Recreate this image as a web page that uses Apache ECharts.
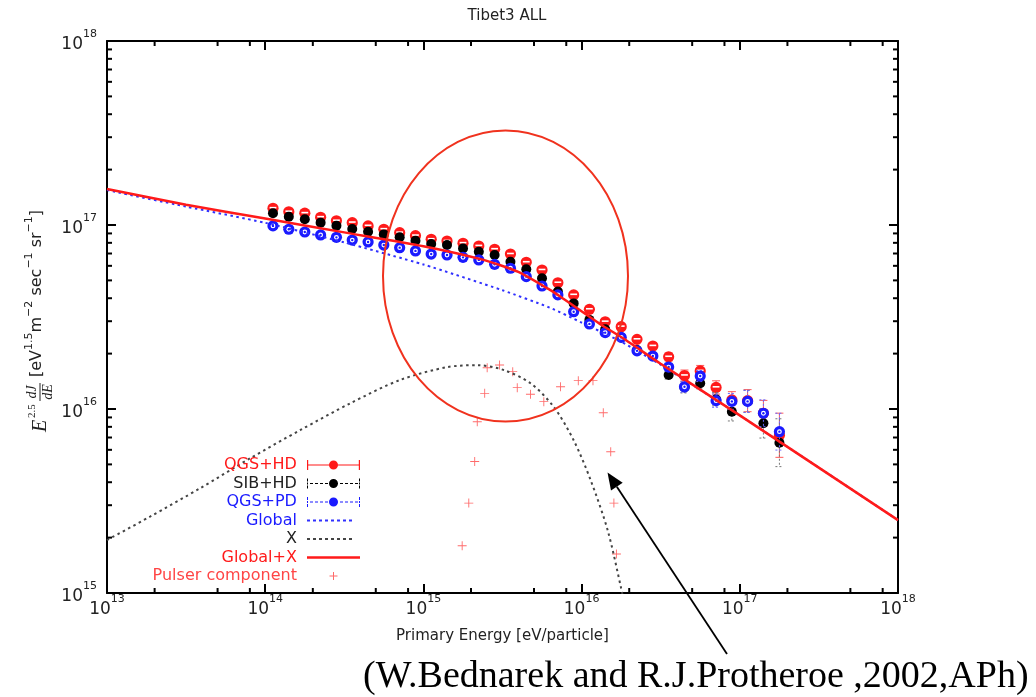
<!DOCTYPE html>
<html>
<head>
<meta charset="utf-8">
<script src="https://cdn.jsdelivr.net/npm/echarts/dist/echarts.min.js"></script>
<style>
  html, body { margin: 0; padding: 0; background: #fff; }
  #chart { width: 1036px; height: 697px; }
</style>
</head>
<body>
<div id="chart"></div>
<script>
// Primary energy of each bin (eV/particle), 0.1-decade steps
const energy = [
  1.12e14, 1.41e14, 1.78e14, 2.24e14, 2.82e14, 3.55e14, 4.47e14, 5.62e14, 7.08e14, 8.91e14,
  1.12e15, 1.41e15, 1.78e15, 2.24e15, 2.82e15, 3.55e15, 4.47e15, 5.62e15, 7.08e15, 8.91e15,
  1.12e16, 1.41e16, 1.78e16, 2.24e16, 2.82e16, 3.55e16, 4.47e16, 5.62e16, 7.08e16, 8.91e16,
  1.12e17, 1.41e17, 1.78e17
];

// E^2.5 dJ/dE for the three interaction-model analyses
const qgsHd = [
  1.233e17, 1.180e17, 1.159e17, 1.102e17, 1.054e17, 1.030e17, 9.89e16, 9.48e16, 9.08e16, 8.75e16,
  8.36e16, 8.18e16, 7.96e16, 7.69e16, 7.38e16, 6.95e16, 6.27e16, 5.69e16, 4.85e16, 4.17e16,
  3.48e16, 2.98e16, 2.80e16, 2.39e16, 2.20e16, 1.92e16, 1.52e16, 1.61e16, 1.31e16, 1.12e16,
  1.11e16, 9.48e15, 7.2e15
];
const sibHd = [
  1.159e17, 1.109e17, 1.074e17, 1.030e17, 9.91e16, 9.51e16, 9.20e16, 8.89e16, 8.57e16, 8.22e16,
  7.89e16, 7.78e16, 7.46e16, 7.16e16, 6.87e16, 6.32e16, 5.74e16, 5.13e16, 4.35e16, 3.75e16,
  3.05e16, 2.71e16, 2.45e16, 2.09e16, 1.94e16, 1.53e16, 1.31e16, 1.38e16, 1.13e16, 9.66e15,
  1.10e16, 8.36e15, 6.56e15
];
const qgsPd = [
  9.89e16, 9.48e16, 9.16e16, 8.83e16, 8.57e16, 8.28e16, 8.09e16, 7.78e16, 7.53e16, 7.23e16,
  6.95e16, 6.87e16, 6.67e16, 6.46e16, 6.11e16, 5.82e16, 5.24e16, 4.66e16, 4.17e16, 3.38e16,
  2.90e16, 2.60e16, 2.45e16, 2.07e16, 1.94e16, 1.69e16, 1.32e16, 1.51e16, 1.11e16, 1.10e16,
  1.10e16, 9.48e15, 7.53e15
];

// Statistical errors, in decades (log10 units)
const qgsHdErr = [
  0, 0, 0, 0, 0, 0, 0, 0, 0, 0, 0, 0, 0, 0, 0, 0, 0, 0, 0, 0, 0, 0,
  0.012, 0.015, 0.018, 0.022, 0.03, 0.03, 0.036, 0.045, 0.06, 0.07, 0.12
];
const sibHdErr = [
  0, 0, 0, 0, 0, 0, 0, 0, 0, 0, 0, 0, 0, 0, 0, 0, 0, 0, 0, 0, 0, 0,
  0.012, 0.015, 0.018, 0.022, 0.03, 0.03, 0.036, 0.05, 0.06, 0.08, 0.13
];
const qgsPdErr = [
  0, 0, 0, 0, 0, 0, 0, 0, 0, 0, 0, 0, 0, 0, 0, 0, 0, 0, 0, 0, 0, 0,
  0.012, 0.015, 0.018, 0.022, 0.03, 0.03, 0.036, 0.043, 0.06, 0.073, 0.10
];

// Model curves
const globalE    = [1e13, 3.16e13, 1e14, 3.16e14, 1e15, 3.16e15, 6.31e15, 1e16, 1.78e16, 3.16e16, 1e17, 1e18];
const globalFlux = [1.549e17, 1.259e17, 1.028e17, 8.04e16, 6.10e16, 4.42e16, 3.55e16, 2.95e16, 2.32e16, 1.74e16, 9.23e15, 2.49e15];

const xE    = [1e13, 1.87e13, 3.88e13, 8.04e13, 1.67e14, 3.45e14, 7.14e14, 1.42e15, 2.20e15,
               3.21e15, 4.75e15, 6.65e15, 8.89e15, 1.14e16, 1.46e16, 1.77e16, 1.87e16];
const xFlux = [1.94e15, 2.60e15, 3.71e15, 5.40e15, 7.69e15, 1.074e16, 1.439e16, 1.69e16, 1.73e16,
               1.63e16, 1.38e16, 1.03e16, 6.79e15, 4.11e15, 2.20e15, 1.08e15, 8.6e14];

const sumE    = [1e13, 3.16e13, 1e14, 3.16e14, 1e15, 2.40e15, 3.98e15, 6.31e15, 7.36e15, 1.32e16, 1.82e16, 3.16e16, 1e17, 1e18];
const sumFlux = [1.57e17, 1.288e17, 1.084e17, 9.12e16, 7.67e16, 6.46e16, 5.56e16, 4.44e16, 4.07e16, 2.88e16, 2.43e16, 1.76e16, 9.23e15, 2.49e15];

// Pulsar component points
const pulserE = [
  1.758e15, 1.936e15, 2.11e15, 2.19e15, 2.44e15, 2.53e15, 3.03e15, 3.67e15, 3.92e15,
  4.75e15, 5.77e15, 7.36e15, 9.53e15, 1.18e16, 1.371e16, 1.528e16, 1.60e16, 1.66e16
];
const pulserFlux = [
  1.807e15, 3.08e15, 5.18e15, 8.53e15, 1.216e16, 1.675e16, 1.734e16, 1.596e16, 1.306e16,
  1.202e16, 1.096e16, 1.321e16, 1.426e16, 1.426e16, 9.55e15, 5.86e15, 3.08e15, 1.629e15
];

// Axis ranges and minor tick positions
const X_MIN = 1e13, X_MAX = 1e18, Y_MIN = 1e15, Y_MAX = 1e18;
const xMinorMantissa = [2, 5, 8];
const yMinorMantissa = [2, 3, 4, 5, 6, 7, 8, 9];

const xMinorTicks = [];
for (let e = 13; e < 18; e++) xMinorMantissa.forEach(m => xMinorTicks.push(m * Math.pow(10, e)));
const yMinorTicks = [];
for (let e = 15; e < 18; e++) yMinorMantissa.forEach(m => yMinorTicks.push(m * Math.pow(10, e)));

const RED = '#ff1a1a', BLUE = '#1a1aff', BLACK = '#000000';
const FONT = '"DejaVu Sans", sans-serif';

const zip3 = (a, b, c) => a.map((v, i) => [v, b[i], c[i]]);
const zip2 = (a, b) => a.map((v, i) => [v, b[i]]);

const markerStyles = {
  qgsHd: { bar: '#ff5a5a', dash: null },
  sibHd: { bar: '#777777', dash: [2, 2] },
  qgsPd: { bar: '#6a6aff', dash: [2, 2] }
};

function pointRenderer(kind) {
  return function (params, api) {
    const e = api.value(0), f = api.value(1), err = api.value(2);
    const c = api.coord([e, f]);
    const st = markerStyles[kind];
    const kids = [];
    if (err > 0) {
      const k = Math.pow(10, err);
      const hi = api.coord([e, f * k])[1];
      const lo = api.coord([e, f / k])[1];
      const bs = { stroke: st.bar, lineWidth: 1, lineDash: st.dash };
      kids.push({ type: 'line', shape: { x1: c[0], y1: hi, x2: c[0], y2: lo }, style: bs });
      kids.push({ type: 'line', shape: { x1: c[0] - 4, y1: hi, x2: c[0] + 4, y2: hi }, style: bs });
      kids.push({ type: 'line', shape: { x1: c[0] - 4, y1: lo, x2: c[0] + 4, y2: lo }, style: bs });
    }
    if (kind === 'qgsHd') {
      kids.push({ type: 'circle', shape: { cx: c[0], cy: c[1], r: 5.6 }, style: { fill: RED } });
      kids.push({ type: 'rect', shape: { x: c[0] - 3.4, y: c[1] - 1.4, width: 6.8, height: 1.6 }, style: { fill: '#fff' } });
    } else if (kind === 'sibHd') {
      kids.push({ type: 'circle', shape: { cx: c[0], cy: c[1], r: 5 }, style: { fill: BLACK } });
    } else {
      kids.push({ type: 'circle', shape: { cx: c[0], cy: c[1], r: 5.6 }, style: { fill: BLUE } });
      kids.push({ type: 'circle', shape: { cx: c[0], cy: c[1], r: 2.4 }, style: { fill: '#fff' } });
      kids.push({ type: 'circle', shape: { cx: c[0], cy: c[1], r: 1.2 }, style: { fill: BLUE } });
    }
    return { type: 'group', children: kids };
  };
}

// Legend sample shapes (53 x 12 box; corner specks fix the box size)
const ICON_BOX = 'M0,0h0.01v0.01h-0.01z M52.99,11.99h0.01v0.01h-0.01z ';
function barIcon(dashed) {
  let p = 'path://' + ICON_BOX;
  if (dashed) {
    p += 'M0,1h1v3h-1z M0,5h1v2h-1z M0,8h1v3h-1z M52,1h1v3h-1z M52,5h1v2h-1z M52,8h1v3h-1z ';
    for (let x = 3; x < 50; x += 5) p += 'M' + x + ',5.5h3v1h-3z ';
  } else {
    p += 'M0,1h1.2v10h-1.2z M51.8,1h1.2v10h-1.2z M0,5.5h53v1h-53z ';
  }
  p += 'M22,6a4.5,4.5 0 1,1 9,0a4.5,4.5 0 1,1 -9,0z';
  return p;
}
function dottedIcon() {
  let p = 'path://' + ICON_BOX;
  for (let x = 0; x < 48; x += 6) p += 'M' + x + ',5h3v2h-3z ';
  return p;
}
const solidIcon = 'path://' + ICON_BOX + 'M0,4.8h53v2.4h-53z';
const plusIcon = 'path://' + ICON_BOX + 'M22.5,5.5h8v1h-8z M26,2h1v8h-1z';

const tickLabelRich = {
  b: { fontFamily: FONT, fontSize: 17, color: '#222', lineHeight: 24, verticalAlign: 'bottom' },
  s: { fontFamily: FONT, fontSize: 11, color: '#222', lineHeight: 24, verticalAlign: 'top' }
};
const powerLabel = v => '{b|10}{s|' + Math.round(Math.log10(v)) + '}';

const axisLineStyle = { color: '#000', width: 2 };
const majorTick = { show: true, inside: true, length: 9, lineStyle: { color: '#000', width: 2 } };

// Arrow geometry for the annotation
const arrowTail = [727, 654], arrowTip = [607.5, 472.5];
const ad = [arrowTip[0] - arrowTail[0], arrowTip[1] - arrowTail[1]];
const al = Math.hypot(ad[0], ad[1]);
const au = [ad[0] / al, ad[1] / al], an = [-au[1], au[0]];
const headLen = 17, headHalf = 7;
const headBase = [arrowTip[0] - au[0] * headLen, arrowTip[1] - au[1] * headLen];

const chart = echarts.init(document.getElementById('chart'), null, { renderer: 'canvas' });

chart.setOption({
  animation: false,
  backgroundColor: '#fff',
  title: {
    text: 'Tibet3 ALL', left: 502, top: 4, textAlign: 'center',
    textStyle: { fontFamily: FONT, fontSize: 15, fontWeight: 'normal', color: '#222' }
  },
  grid: { left: 107, right: 138, top: 41, bottom: 104 },
  legend: {
    orient: 'vertical', right: 676, top: 457, align: 'right', padding: 0,
    itemWidth: 53, itemHeight: 12, itemGap: 2.5, selectedMode: false,
    textStyle: { fontFamily: FONT, fontSize: 16, lineHeight: 16 },
    formatter: n => n + ' ',
    data: [
      { name: 'QGS+HD', icon: barIcon(false), textStyle: { color: RED } },
      { name: 'SIB+HD', icon: barIcon(true), textStyle: { color: '#222' } },
      { name: 'QGS+PD', icon: barIcon(true), textStyle: { color: BLUE } },
      { name: 'Global', icon: dottedIcon(), textStyle: { color: BLUE } },
      { name: 'X', icon: dottedIcon(), textStyle: { color: '#222' } },
      { name: 'Global+X', icon: solidIcon, textStyle: { color: RED } },
      { name: 'Pulser component', icon: plusIcon, textStyle: { color: '#ff4545' } }
    ]
  },
  xAxis: [
    {
      type: 'log', logBase: 10, min: X_MIN, max: X_MAX, position: 'bottom',
      axisLine: { lineStyle: axisLineStyle }, axisTick: majorTick, splitLine: { show: false },
      axisLabel: { margin: 1, formatter: powerLabel, rich: tickLabelRich },
      name: 'Primary Energy [eV/particle]', nameLocation: 'middle', nameGap: 36,
      nameTextStyle: { fontFamily: FONT, fontSize: 15, color: '#222' }
    },
    {
      type: 'log', logBase: 10, min: X_MIN, max: X_MAX, position: 'top',
      axisLine: { lineStyle: axisLineStyle }, axisTick: majorTick, splitLine: { show: false },
      axisLabel: { show: false }
    }
  ],
  yAxis: [
    {
      type: 'log', logBase: 10, min: Y_MIN, max: Y_MAX, position: 'left',
      axisLine: { lineStyle: axisLineStyle }, axisTick: majorTick, splitLine: { show: false },
      axisLabel: { margin: 10, formatter: powerLabel, rich: tickLabelRich }
    },
    {
      type: 'log', logBase: 10, min: Y_MIN, max: Y_MAX, position: 'right',
      axisLine: { lineStyle: axisLineStyle }, axisTick: majorTick, splitLine: { show: false },
      axisLabel: { show: false }
    }
  ],
  series: [
    {
      name: 'QGS+HD', type: 'custom', itemStyle: { color: RED },
      encode: { x: 0, y: 1 }, data: zip3(energy, qgsHd, qgsHdErr), renderItem: pointRenderer('qgsHd')
    },
    {
      name: 'SIB+HD', type: 'custom', itemStyle: { color: BLACK },
      encode: { x: 0, y: 1 }, data: zip3(energy, sibHd, sibHdErr), renderItem: pointRenderer('sibHd')
    },
    {
      name: 'QGS+PD', type: 'custom', itemStyle: { color: BLUE },
      encode: { x: 0, y: 1 }, data: zip3(energy, qgsPd, qgsPdErr), renderItem: pointRenderer('qgsPd')
    },
    {
      name: 'Global', type: 'line', symbol: 'none', smooth: 0.2,
      itemStyle: { color: '#3030ff' },
      lineStyle: { color: '#3030ff', width: 2, type: [2.5, 3.5] },
      data: zip2(globalE, globalFlux)
    },
    {
      name: 'X', type: 'line', symbol: 'none', smooth: 0.3,
      itemStyle: { color: '#444' },
      lineStyle: { color: '#444', width: 2, type: [2.5, 3.5] },
      data: zip2(xE, xFlux)
    },
    {
      name: 'Global+X', type: 'line', symbol: 'none', smooth: 0.2,
      itemStyle: { color: RED },
      lineStyle: { color: RED, width: 2.5 },
      data: zip2(sumE, sumFlux)
    },
    {
      name: 'Pulser component', type: 'scatter',
      symbol: 'path://M0,4.5h10v1h-10z M4.5,0h1v10h-1z', symbolSize: 9,
      itemStyle: { color: '#ff4545' },
      data: zip2(pulserE, pulserFlux)
    },
    {
      // minor ticks on bottom and top axes
      type: 'custom', silent: true, z: 6,
      encode: { x: 0, y: 1 }, data: xMinorTicks.map(v => [v, Y_MIN]),
      renderItem: (params, api) => {
        const v = api.value(0);
        const b = api.coord([v, Y_MIN]), t = api.coord([v, Y_MAX]);
        const st = { stroke: '#000', lineWidth: 2 };
        return { type: 'group', children: [
          { type: 'line', shape: { x1: b[0], y1: b[1], x2: b[0], y2: b[1] - 5 }, style: st },
          { type: 'line', shape: { x1: t[0], y1: t[1], x2: t[0], y2: t[1] + 5 }, style: st }
        ] };
      }
    },
    {
      // minor ticks on left and right axes
      type: 'custom', silent: true, z: 6,
      encode: { x: 0, y: 1 }, data: yMinorTicks.map(v => [X_MIN, v]),
      renderItem: (params, api) => {
        const v = api.value(1);
        const l = api.coord([X_MIN, v]), r = api.coord([X_MAX, v]);
        const st = { stroke: '#000', lineWidth: 2 };
        return { type: 'group', children: [
          { type: 'line', shape: { x1: l[0], y1: l[1], x2: l[0] + 5, y2: l[1] }, style: st },
          { type: 'line', shape: { x1: r[0], y1: r[1], x2: r[0] - 5, y2: r[1] }, style: st }
        ] };
      }
    }
  ],
  graphic: [
    // y-axis title, reading bottom to top
    {
      type: 'group', x: 40, y: 320, rotation: Math.PI / 2,
      children: [
        { type: 'text', x: -112, y: 11, style: { text: 'E', font: 'italic 20px "Liberation Serif", serif', fill: '#222', verticalAlign: 'bottom' } },
        { type: 'text', x: -98, y: -2, style: { text: '2.5', font: '11px "Liberation Serif", serif', fill: '#222', verticalAlign: 'bottom' } },
        { type: 'text', x: -72, y: -0.5, style: { text: 'dJ', font: 'italic 14px "Liberation Serif", serif', fill: '#222', align: 'center', verticalAlign: 'bottom' } },
        { type: 'line', shape: { x1: -81, y1: 0, x2: -63, y2: 0 }, style: { stroke: '#222', lineWidth: 1 } },
        { type: 'text', x: -72, y: 1, style: { text: 'dE', font: 'italic 14px "Liberation Serif", serif', fill: '#222', align: 'center', verticalAlign: 'top' } },
        {
          type: 'text', x: -57, y: 5,
          style: {
            text: '{b|[eV}{s|1.5}{b|m}{s|\u22122}{b| sec}{s|\u22121}{b| sr}{s|\u22121}{b|]}',
            verticalAlign: 'bottom', align: 'left', fill: '#222',
            rich: {
              b: { fontFamily: FONT, fontSize: 16, lineHeight: 21, verticalAlign: 'bottom', fill: '#222' },
              s: { fontFamily: FONT, fontSize: 11, lineHeight: 21, verticalAlign: 'top', fill: '#222' }
            }
          }
        }
      ]
    },
    // highlighted region
    {
      type: 'ellipse', z: 10,
      shape: { cx: 505.5, cy: 276, rx: 122.5, ry: 145.5 },
      style: { fill: 'none', stroke: '#f0321e', lineWidth: 2 }
    },
    // arrow pointing to the pulsar component
    {
      type: 'line', z: 10,
      shape: { x1: arrowTail[0], y1: arrowTail[1], x2: headBase[0], y2: headBase[1] },
      style: { stroke: '#000', lineWidth: 1.8 }
    },
    {
      type: 'polygon', z: 10,
      shape: { points: [
        arrowTip,
        [headBase[0] + an[0] * headHalf, headBase[1] + an[1] * headHalf],
        [headBase[0] - an[0] * headHalf, headBase[1] - an[1] * headHalf]
      ] },
      style: { fill: '#000' }
    },
    {
      type: 'text', x: 363, y: 677, z: 10,
      style: {
        text: '(W.Bednarek and R.J.Protheroe ,2002,APh)',
        font: '38px "Liberation Serif", "Times New Roman", serif',
        fill: '#000', verticalAlign: 'middle', align: 'left'
      }
    }
  ]
});
</script>
</body>
</html>
